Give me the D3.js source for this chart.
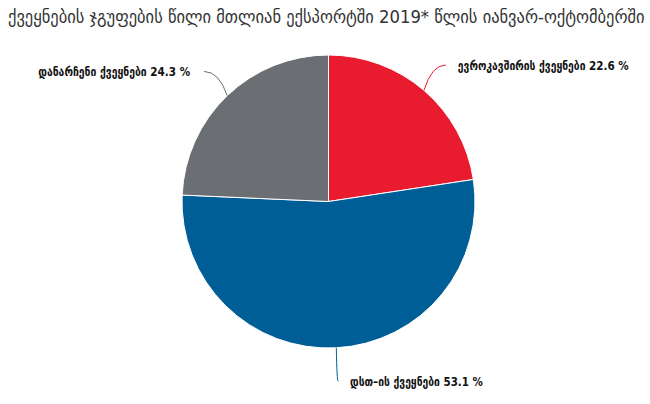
<!DOCTYPE html>
<html>
<head>
<meta charset="utf-8">
<script src="https://cdn.jsdelivr.net/npm/d3@7"></script>
<style>
  html, body { margin: 0; padding: 0; background: #fff; }
  svg { display: block; }
</style>
</head>
<body>
<svg id="chart" width="650" height="404"></svg>
<script>
// ---- data ----
const title = "ქვეყნების ჯგუფების წილი მთლიან ექსპორტში 2019* წლის იანვარ-ოქტომბერში";
const categories = ["ევროკავშირის ქვეყნები", "დსთ–ის ქვეყნები", "დანარჩენი ქვეყნები"];
const values = [22.6, 53.1, 24.3];

// ---- styles ----
const colors = ["#E81C2E", "#005E96", "#6B6E72"];
const W = 650, H = 404;
const cx = 328.5, cy = 201.5, R = 146.5, labelR = 180;
const titleFont = "'DejaVu Sans Condensed', 'DejaVu Sans', sans-serif";
const labelFont = "'DejaVu Sans Condensed', 'DejaVu Sans', sans-serif";

const svg = d3.select("#chart");

// title
const t = svg.append("text")
  .attr("x", 8).attr("y", 23)
  .attr("font-family", titleFont)
  .attr("font-size", 15)
  .attr("fill", "#333")
  .text(title);
// fit to reference width (~637px)
const tw = t.node().getComputedTextLength();
t.attr("font-size", 15 * 637 / tw);

const data = categories.map((c, i) => ({ name: c, value: values[i], color: colors[i] }));

const pie = d3.pie().sort(null).value(d => d.value);
const arcs = pie(data);
const arc = d3.arc().innerRadius(0).outerRadius(R);
const edgeArc = d3.arc().innerRadius(R).outerRadius(R);
const outArc = d3.arc().innerRadius(labelR).outerRadius(labelR);

const g = svg.append("g").attr("transform", `translate(${cx},${cy})`);

g.selectAll("path.slice")
  .data(arcs)
  .join("path")
  .attr("class", "slice")
  .attr("d", arc)
  .attr("fill", d => d.data.color)
  .attr("stroke", "#fff")
  .attr("stroke-width", 1);

const targetW = [171, 133, 152];

arcs.forEach((a, i) => {
  const mid = (a.startAngle + a.endAngle) / 2;
  const p0 = edgeArc.centroid(a);
  const p1 = outArc.centroid(a);
  const right = Math.sin(mid) >= 0;
  const ctrl = [p0[0] + (p1[0] - p0[0]) * 0.35, p1[1]];
  g.append("path")
    .attr("d", `M${p0[0]},${p0[1]} Q${ctrl[0]},${ctrl[1]} ${p1[0]},${p1[1]}`)
    .attr("fill", "none")
    .attr("stroke", a.data.color)
    .attr("stroke-width", 1);
  const lab = g.append("text")
    .attr("x", p1[0] + (right ? 12 : -14))
    .attr("y", p1[1] + 5)
    .attr("text-anchor", right ? "start" : "end")
    .attr("font-family", labelFont)
    .attr("font-size", 11)
    .attr("font-weight", "bold")
    .attr("fill", "#111")
    .text(`${a.data.name} ${a.data.value} %`);
  const lw = lab.node().getComputedTextLength();
  lab.attr("font-size", Math.min(12, 11 * targetW[i] / lw));
});
</script>
</body>
</html>
